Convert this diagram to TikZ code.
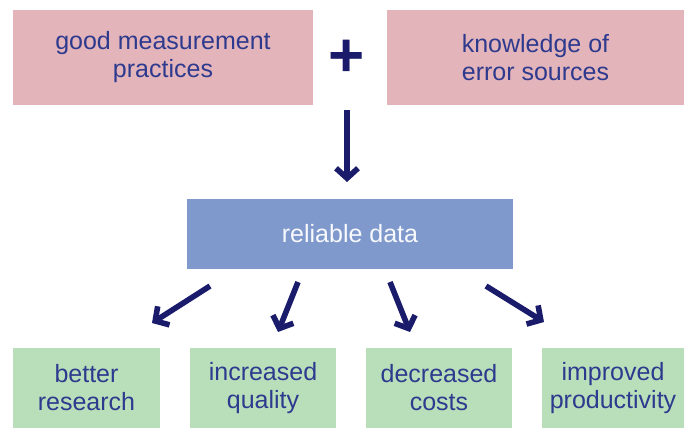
\documentclass[tikz,border=0pt]{standalone}
\usepackage{fontspec}
\setmainfont{Liberation Sans}
\usetikzlibrary{arrows.meta}
\definecolor{pinkbox}{HTML}{E3B5BB}
\definecolor{bluebox}{HTML}{7F99CC}
\definecolor{greenbox}{HTML}{B9DFBA}
\definecolor{txtblue}{HTML}{2E3A8E}
\definecolor{navy}{HTML}{1B1B6B}
\tikzset{
  box/.style={inner sep=0pt, align=center, text=txtblue, font=\fontsize{25}{28}\selectfont},
  topbox/.style={box, fill=pinkbox, minimum width=300pt, minimum height=95pt},
  databox/.style={box, fill=bluebox, text=white!94!bluebox, minimum width=326pt, minimum height=70pt},
  outbox/.style={box, fill=greenbox, minimum width=146pt, minimum height=80pt},
  arr/.style={draw=navy, line width=5.6pt, -{Straight Barb[length=10pt,width=22pt,line width=5.6pt]}}
}
\begin{document}
\begin{tikzpicture}[x=1pt,y=-1pt]
\useasboundingbox (0,0) rectangle (684,428);
\node[topbox] (good) at (163,57.5) {good measurement\\practices};
\node[topbox, minimum width=297pt] (know) at (535.5,57.5) {knowledge of\\error sources};
\node[text=navy, font=\fontsize{62}{62}\selectfont\bfseries, inner sep=0pt] (plus) at (347,58) {+};
\node[databox] (data) at (350,234) {reliable data};
\node[outbox, minimum width=147pt] (b1) at (86.5,388) {better\\research};
\node[outbox] (b2) at (263,388) {increased\\quality};
\node[outbox] (b3) at (439,388) {decreased\\costs};
\node[outbox, minimum width=142pt] (b4) at (613,388) {improved\\productivity};
\coordinate (a0s) at (347,110);
\coordinate (a0e) at (347,182);
\coordinate (a1s) at (210,286);
\coordinate (a1e) at (152,323);
\coordinate (a2s) at (298,282);
\coordinate (a2e) at (278,332);
\coordinate (a3s) at (390,282);
\coordinate (a3e) at (410,332);
\coordinate (a4s) at (486,286);
\coordinate (a4e) at (544,322);
\draw[arr] (a0s) -- (a0e);
\draw[arr] (a1s) -- (a1e);
\draw[arr] (a2s) -- (a2e);
\draw[arr] (a3s) -- (a3e);
\draw[arr] (a4s) -- (a4e);
\end{tikzpicture}
\end{document}
